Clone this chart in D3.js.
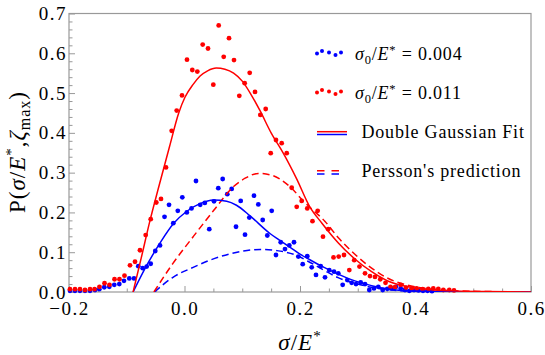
<!DOCTYPE html>
<html>
<head>
<meta charset="utf-8">
<script src="https://cdn.jsdelivr.net/npm/d3@7"></script>
<style>
body { margin: 0; background: #fff; }
svg text { font-family: "Liberation Serif", "Times New Roman", Times, "DejaVu Serif", serif; fill: #000; }
</style>
</head>
<body>
<svg id="chart" width="545" height="355"></svg>
<script>
// measured points, sigma0/E* = 0.004 (blue)
const low_x = [-0.1983, -0.1896, -0.1810, -0.1723, -0.1636, -0.1550, -0.1475, -0.1389, -0.1302, -0.1216,
    -0.1129, -0.1048, -0.0956, -0.0874, -0.0800, -0.0724, -0.0655, -0.0585, -0.0506, -0.0424,
    -0.0346, -0.0268, -0.0194, -0.0116, -0.0038, 0.0040, 0.0121, 0.0199, 0.0272, 0.0352,
    0.0429, 0.0511, 0.0585, 0.0661, 0.0741, 0.0817, 0.0892, 0.0973, 0.1048, 0.1122,
    0.1203, 0.1278, 0.1354, 0.1434, 0.1510, 0.1584, 0.1666, 0.1740, 0.1815, 0.1896,
    0.1971, 0.2047, 0.2126, 0.2203, 0.2277, 0.2358, 0.2433, 0.2507, 0.2589, 0.2663,
    0.2739, 0.2819, 0.2895, 0.2970, 0.3051, 0.3126, 0.3200, 0.3281, 0.3356, 0.3432,
    0.3512, 0.3588, 0.3662, 0.3744, 0.3818, 0.3893, 0.3974, 0.4052, 0.4130, 0.4208, 0.4286];
const low_y = [0.003, 0.003, 0.003, 0.003, 0.003, 0.005, 0.007, 0.012, 0.013, 0.018,
    0.020, 0.028, 0.034, 0.034, 0.065, 0.060, 0.064, 0.071, 0.103, 0.117,
    0.189, 0.219, 0.173, 0.204, 0.238, 0.200, 0.210, 0.279, 0.219, 0.224,
    0.158, 0.228, 0.261, 0.284, 0.246, 0.259, 0.164, 0.229, 0.144, 0.187,
    0.242, 0.220, 0.181, 0.142, 0.204, 0.093, 0.125, 0.108, 0.117, 0.125,
    0.089, 0.070, 0.090, 0.062, 0.043, 0.065, 0.037, 0.055, 0.051, 0.047,
    0.018, 0.030, 0.023, 0.020, 0.024, 0.020, 0.005, 0.009, 0.013, 0.005,
    0.008, 0.009, 0.013, 0.009, 0.005, 0.003, 0.005, 0.004, 0.003, 0.003, 0.002];

// measured points, sigma0/E* = 0.011 (red)
const high_x = [-0.1983, -0.1896, -0.1810, -0.1723, -0.1636, -0.1558, -0.1472, -0.1385, -0.1299, -0.1212,
    -0.1126, -0.1039, -0.0944, -0.0857, -0.0771, -0.0672, -0.0585, -0.0488, -0.0407, -0.0320,
    -0.0222, -0.0135, -0.0043, 0.0043, 0.0135, 0.0222, 0.0315, 0.0407, 0.0499, 0.0592,
    0.0679, 0.0771, 0.0857, 0.0949, 0.1042, 0.1129, 0.1221, 0.1313, 0.1406, 0.1493,
    0.1584, 0.1683, 0.1770, 0.1856, 0.1943, 0.2029, 0.2126, 0.2216, 0.2306, 0.2398,
    0.2488, 0.2580, 0.2670, 0.2762, 0.2854, 0.2939, 0.3030, 0.3126, 0.3212, 0.3299,
    0.3390, 0.3481, 0.3567, 0.3645, 0.3744, 0.3835, 0.3934, 0.4021, 0.4125, 0.4222,
    0.4308, 0.4395, 0.4481, 0.4585, 0.4667];
const high_y = [0.007, 0.007, 0.007, 0.005, 0.007, 0.007, 0.013, 0.022, 0.018, 0.032,
    0.032, 0.041, 0.067, 0.076, 0.105, 0.143, 0.183, 0.225, 0.234, 0.313,
    0.405, 0.456, 0.494, 0.584, 0.558, 0.554, 0.622, 0.612, 0.521, 0.670,
    0.591, 0.638, 0.583, 0.493, 0.525, 0.551, 0.503, 0.445, 0.460, 0.349,
    0.382, 0.374, 0.349, 0.262, 0.214, 0.229, 0.210, 0.178, 0.204, 0.139,
    0.158, 0.087, 0.089, 0.093, 0.055, 0.080, 0.064, 0.047, 0.040, 0.038,
    0.032, 0.023, 0.013, 0.012, 0.018, 0.011, 0.009, 0.009, 0.007, 0.008,
    0.009, 0.008, 0.005, 0.005, 0.004];

// double gaussian fits
const fit_low_x = [-0.089, -0.065, -0.042, -0.019, 0.004, 0.027, 0.05, 0.073, 0.09, 0.113,
    0.148, 0.165, 0.183, 0.2, 0.217, 0.24, 0.266, 0.295, 0.324, 0.359, 0.40, 0.46, 0.6];
const fit_low_y = [0, 0.068, 0.124, 0.172, 0.203, 0.222, 0.231, 0.228, 0.218, 0.192,
    0.147, 0.13, 0.112, 0.095, 0.081, 0.063, 0.045, 0.028, 0.016, 0.006, 0.002, 0.0005, 0];
const fit_high_x = [-0.089, -0.075, -0.06, -0.045, -0.026, -0.010, 0.001, 0.015, 0.027, 0.04,
    0.055, 0.07, 0.085, 0.1, 0.115, 0.131, 0.15, 0.171, 0.194, 0.217,
    0.238, 0.266, 0.295, 0.324, 0.353, 0.40, 0.46, 0.52, 0.6];
const fit_high_y = [0, 0.085, 0.178, 0.262, 0.365, 0.45, 0.49, 0.522, 0.543, 0.556,
    0.563, 0.560, 0.550, 0.530, 0.497, 0.455, 0.40, 0.349, 0.285, 0.214,
    0.173, 0.124, 0.083, 0.051, 0.027, 0.010, 0.003, 0.001, 0];

// Persson's prediction
const persson_low_x = [-0.052, -0.02, 0.015, 0.044, 0.079, 0.102, 0.131, 0.16, 0.194, 0.213,
    0.24, 0.266, 0.295, 0.324, 0.359, 0.42, 0.6];
const persson_low_y = [0, 0.037, 0.062, 0.08, 0.096, 0.103, 0.107, 0.104, 0.092, 0.078,
    0.056, 0.036, 0.022, 0.012, 0.005, 0.001, 0];
const persson_high_x = [-0.053, -0.02, 0.015, 0.05, 0.085, 0.105, 0.128, 0.15, 0.165, 0.186,
    0.203, 0.217, 0.243, 0.266, 0.295, 0.324, 0.353, 0.40, 0.47, 0.6];
const persson_high_y = [0, 0.072, 0.139, 0.204, 0.265, 0.286, 0.298, 0.294, 0.284, 0.26,
    0.233, 0.213, 0.178, 0.137, 0.095, 0.06, 0.034, 0.013, 0.003, 0];

const x_ticks = [-0.2, 0.0, 0.2, 0.4, 0.6];
const x_minor = [-0.15, -0.1, -0.05, 0.05, 0.1, 0.15, 0.25, 0.3, 0.35, 0.45, 0.5, 0.55];
const y_ticks = [0, 0.1, 0.2, 0.3, 0.4, 0.5, 0.6, 0.7];
const y_minor = [0.02, 0.04, 0.06, 0.08, 0.12, 0.14, 0.16, 0.18, 0.22, 0.24, 0.26, 0.28,
    0.32, 0.34, 0.36, 0.38, 0.42, 0.44, 0.46, 0.48, 0.52, 0.54, 0.56, 0.58, 0.62, 0.64, 0.66, 0.68];

const RED = "#ff0000", BLUE = "#0000ff", FRAME = "#999999";
const SERIF = '"Liberation Serif", "Times New Roman", Times, "DejaVu Serif", serif';

const svg = d3.select("#chart");
const plot_left = 69, plot_right = 531, plot_top = 13.5, plot_bottom = 292;

const x = d3.scaleLinear().domain([-0.2, 0.6]).range([plot_left, plot_right]);
const y = d3.scaleLinear().domain([0, 0.7]).range([plot_bottom, plot_top]);

svg.append("defs").append("clipPath").attr("id", "plot_clip")
    .append("rect")
    .attr("x", plot_left).attr("y", plot_top)
    .attr("width", plot_right - plot_left).attr("height", plot_bottom - plot_top);

// ticks (inward, gray)
const fmt = d3.format(".1f");
function style_axis(g) {
    g.attr("font-family", SERIF);
    g.select(".domain").remove();
    g.selectAll(".tick line").attr("stroke", FRAME);
    g.selectAll(".tick text")
        .attr("font-family", SERIF)
        .style("font-size", "19px")
        .style("letter-spacing", "1.5px")
        .attr("fill", "#000");
}

svg.append("g").attr("transform", `translate(0,${plot_bottom})`)
    .call(d3.axisBottom(x).tickValues(x_minor).tickSize(-3.5).tickFormat(""))
    .call(style_axis);
svg.append("g").attr("transform", `translate(0,${plot_bottom})`)
    .call(d3.axisBottom(x).tickValues(x_ticks).tickSize(-6).tickPadding(10).tickFormat(fmt))
    .call(style_axis);
svg.append("g").attr("transform", `translate(${plot_left},0)`)
    .call(d3.axisLeft(y).tickValues(y_minor).tickSize(-3.5).tickFormat(""))
    .call(style_axis);
svg.append("g").attr("transform", `translate(${plot_left},0)`)
    .call(d3.axisLeft(y).tickValues(y_ticks).tickSize(-6).tickPadding(2).tickFormat(fmt))
    .call(style_axis);

svg.append("rect")
    .attr("x", plot_left).attr("y", plot_top)
    .attr("width", plot_right - plot_left).attr("height", plot_bottom - plot_top)
    .attr("fill", "none").attr("stroke", FRAME).attr("stroke-width", 1.2);

// data points
function draw_points(xs, ys, color) {
    svg.append("g").selectAll("circle")
        .data(xs.map((d, i) => [d, ys[i]]))
        .enter()
        .append("circle")
        .attr("cx", d => x(d[0]))
        .attr("cy", d => y(d[1]))
        .attr("r", 2.4)
        .attr("fill", color);
}
draw_points(low_x, low_y, BLUE);
draw_points(high_x, high_y, RED);

// curves
const line = d3.line().x(d => x(d[0])).y(d => y(d[1])).curve(d3.curveMonotoneX);
const curves_group = svg.append("g").attr("clip-path", "url(#plot_clip)");
function draw_curve(xs, ys, color, dashed) {
    curves_group.append("path")
        .datum(xs.map((d, i) => [d, ys[i]]))
        .attr("d", line)
        .attr("fill", "none")
        .attr("stroke", color)
        .attr("stroke-width", 1.5)
        .attr("stroke-dasharray", dashed ? "7,4" : null);
}
draw_curve(persson_low_x, persson_low_y, BLUE, true);
draw_curve(persson_high_x, persson_high_y, RED, true);
draw_curve(fit_low_x, fit_low_y, BLUE, false);
draw_curve(fit_high_x, fit_high_y, RED, false);

// axis titles
const x_title = svg.append("text")
    .attr("x", 300).attr("y", 350)
    .attr("text-anchor", "middle")
    .attr("font-family", SERIF)
    .style("font-size", "23px")
    .style("letter-spacing", "1px");
x_title.append("tspan").style("font-style", "italic").text("σ");
x_title.append("tspan").text("/");
x_title.append("tspan").style("font-style", "italic").text("E");
x_title.append("tspan").attr("dy", -9).style("font-size", "15px").text("*");

const y_title = svg.append("text")
    .attr("transform", "translate(25,152) rotate(-90)")
    .attr("text-anchor", "middle")
    .attr("font-family", SERIF)
    .style("font-size", "23px")
    .style("letter-spacing", "1px");
y_title.append("tspan").text("P(");
y_title.append("tspan").style("font-style", "italic").text("σ");
y_title.append("tspan").text("/");
y_title.append("tspan").style("font-style", "italic").text("E");
y_title.append("tspan").attr("dy", -9).style("font-size", "15px").text("*");
y_title.append("tspan").attr("dy", 9).text(",");
y_title.append("tspan").style("font-style", "italic").text("ζ");
y_title.append("tspan").attr("dy", 5).style("font-size", "16px").text("max");
y_title.append("tspan").attr("dy", -5).text(")");

// legend
const legend = svg.append("g").attr("font-family", SERIF);
function sigma_label(tx, ty, value) {
    const t = legend.append("text").attr("x", tx).attr("y", ty)
        .style("font-size", "18px").style("letter-spacing", "0.8px");
    t.append("tspan").style("font-style", "italic").text("σ");
    t.append("tspan").attr("dy", 4).style("font-size", "12.5px").text("0");
    t.append("tspan").attr("dy", -4).text("/");
    t.append("tspan").style("font-style", "italic").text("E");
    t.append("tspan").attr("dy", -6).style("font-size", "12.5px").text("*");
    t.append("tspan").attr("dy", 6).text(" = " + value);
}
function dot_icon(y0, color) {
    const offsets = [[0, 1], [5, -1.5], [12, 0], [18.5, 2.5], [24, 0]];
    legend.append("g").selectAll("circle")
        .data(offsets).enter().append("circle")
        .attr("cx", d => 317 + d[0]).attr("cy", d => y0 + d[1])
        .attr("r", 2).attr("fill", color);
}
dot_icon(52.5, BLUE);
sigma_label(355, 59.5, "0.004");
dot_icon(91.5, RED);
sigma_label(355, 98.5, "0.011");

legend.append("line").attr("x1", 317).attr("x2", 347).attr("y1", 131.7).attr("y2", 131.7)
    .attr("stroke", RED).attr("stroke-width", 1.5);
legend.append("line").attr("x1", 317).attr("x2", 347).attr("y1", 134.5).attr("y2", 134.5)
    .attr("stroke", BLUE).attr("stroke-width", 1.5);
legend.append("text").attr("x", 361.5).attr("y", 138.3)
    .style("font-size", "18px").style("letter-spacing", "0.8px")
    .text("Double Gaussian Fit");

legend.append("line").attr("x1", 317).attr("x2", 340).attr("y1", 170.7).attr("y2", 170.7)
    .attr("stroke", RED).attr("stroke-width", 1.5).attr("stroke-dasharray", "7.5,7");
legend.append("line").attr("x1", 317).attr("x2", 340).attr("y1", 174).attr("y2", 174)
    .attr("stroke", BLUE).attr("stroke-width", 1.5).attr("stroke-dasharray", "7.5,7");
legend.append("text").attr("x", 361.5).attr("y", 176.7)
    .style("font-size", "18px").style("letter-spacing", "0.8px")
    .text("Persson's prediction");
</script>
</body>
</html>
